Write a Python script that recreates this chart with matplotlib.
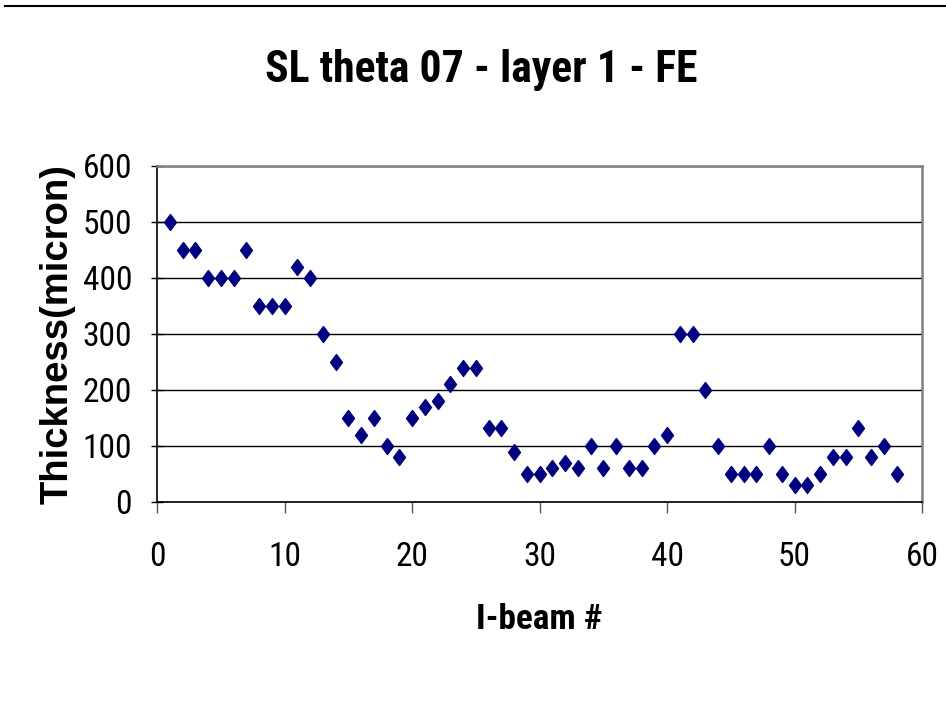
import matplotlib
matplotlib.use("Agg")
import matplotlib.pyplot as plt
from matplotlib.lines import Line2D

# I-beam number vs measured thickness
beam = list(range(1, 59))
thickness = [500, 450, 450, 400, 400, 400, 450, 350, 350, 350,
             420, 400, 300, 250, 150, 120, 150, 100, 80, 150,
             170, 180, 210, 240, 240, 133, 133, 90, 50, 50,
             60, 70, 60, 100, 60, 100, 60, 60, 100, 120,
             300, 300, 200, 100, 50, 50, 50, 100, 50, 30,
             30, 50, 80, 80, 133, 80, 100, 50]

title = "SL theta 07 - layer 1 - FE"
xlabel = "I-beam #"
ylabel = "Thickness(micron)"
xticks = [0, 10, 20, 30, 40, 50, 60]
yticks = [0, 100, 200, 300, 400, 500, 600]

narrow = ["Roboto Condensed", "PT Sans Narrow", "Liberation Sans"]

fig = plt.figure(figsize=(9.46, 7.10), dpi=100)
ax = fig.add_axes([157 / 946, 1 - 502 / 710, (922 - 157) / 946, (502 - 166) / 710])

# stretched diamond like the original
diamond = [(0, 1), (0.75, 0), (0, -1), (-0.75, 0), (0, 1)]
ax.plot(beam, thickness, linestyle="none", marker=diamond, markersize=11.5,
        color="#000080", markeredgecolor="#000080", zorder=3)

ax.set_xlim(0, 60)
ax.set_ylim(0, 600)
ax.set_xticks(xticks)
ax.set_yticks(yticks)
ax.yaxis.grid(True, color="black", linewidth=1.0)
ax.set_axisbelow(True)

for side in ["left", "bottom"]:
    ax.spines[side].set_color("black")
    ax.spines[side].set_linewidth(1.2)
for side in ["top", "right"]:
    ax.spines[side].set_color("#808080")
    ax.spines[side].set_linewidth(1.8)

ax.tick_params(axis="x", direction="out", length=8, width=1, color="#555555", pad=20)
ax.tick_params(axis="y", direction="inout", length=8, width=1, color="black", pad=14)
for lab in ax.get_xticklabels() + ax.get_yticklabels():
    lab.set_fontfamily(narrow)
    lab.set_fontsize(24)

ax.set_xlabel(xlabel, fontfamily=narrow, fontweight="bold", fontsize=25.5, labelpad=22)
ax.set_ylabel(ylabel, fontfamily="Liberation Sans", fontweight="bold", fontsize=27.5, labelpad=5)

fig.text(481 / 946, 1 - 70 / 710, title, ha="center", va="center",
         fontfamily=narrow, fontweight="bold", fontsize=31.5)

# line across the top of the page
fig.add_artist(Line2D([5 / 946, 1.0], [1 - 6 / 710, 1 - 6 / 710],
                      transform=fig.transFigure, color="black", linewidth=1.5))

fig.savefig("out.png", dpi=100)
